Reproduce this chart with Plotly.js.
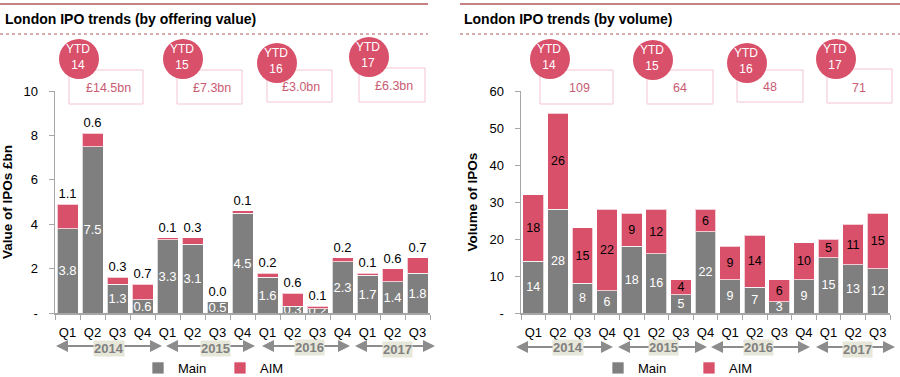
<!DOCTYPE html>
<html><head><meta charset="utf-8">
<script src="https://cdn.plot.ly/plotly-3.0.1.min.js"></script>
<style>html,body{margin:0;padding:0;background:#fff}#chart{width:900px;height:377px}</style>
</head><body><div id="chart"></div>
<script>
// ---------- data ----------
const quarters = ['Q1','Q2','Q3','Q4','Q1','Q2','Q3','Q4','Q1','Q2','Q3','Q4','Q1','Q2','Q3'];
const years = ['2014','2015','2016','2017'];
const valueMain = [3.8,7.5,1.3,0.6,3.3,3.1,0.5,4.5,1.6,0.3,0.2,2.3,1.7,1.4,1.8];
const valueAIM  = [1.1,0.6,0.3,0.7,0.1,0.3,0.0,0.1,0.2,0.6,0.1,0.2,0.1,0.6,0.7];
const volumeMain = [14,28,8,6,18,16,5,22,9,7,3,9,15,13,12];
const volumeAIM  = [18,26,15,22,9,12,4,6,9,14,6,10,5,11,15];
const ytdYears  = ['14','15','16','17'];
const ytdValue  = ['£14.5bn','£7.3bn','£3.0bn','£6.3bn'];
const ytdVolume = ['109','64','48','71'];
const valueTicks = [0,2,4,6,8,10];
const volumeTicks = [0,10,20,30,40,50,60];

// ---------- style ----------
const W = 900, H = 377;
const MAIN = '#7f7f7f', AIM = '#d9506b', AX = '#a6a6a6', RED = '#b35a5a';
const FONT = 'Arial, "Liberation Sans", sans-serif';
const X = p => p / W, Y = p => 1 - p / H;
const idx = quarters.map((_, i) => i);
const bounds = [...idx.map(i => i - 0.5), idx.length - 0.5];
const tickLbl = t => t.map(v => v === 0 ? '-' : String(v));

const traces = [
  {type:'bar', name:'Main', x:idx, y:valueMain, xaxis:'x', yaxis:'y', legend:'legend',
   marker:{color:MAIN, line:{color:'rgba(255,255,255,0.7)', width:1}},
   text:valueMain.map(v=>v.toFixed(1)), textposition:'inside', insidetextanchor:'middle',
   constraintext:'none', textangle:0, insidetextfont:{color:'#fff', size:13, family:FONT}, hoverinfo:'skip'},
  {type:'bar', name:'AIM', x:idx, y:valueAIM, xaxis:'x', yaxis:'y', legend:'legend',
   marker:{color:AIM, line:{color:'rgba(255,255,255,0.7)', width:1}},
   text:valueAIM.map(v=>v.toFixed(1)), textposition:'outside', cliponaxis:false,
   constraintext:'none', textangle:0, outsidetextfont:{color:'#000', size:13, family:FONT}, hoverinfo:'skip'},
  {type:'bar', name:'Main', x:idx, y:volumeMain, xaxis:'x2', yaxis:'y2', legend:'legend2',
   marker:{color:MAIN, line:{color:'rgba(255,255,255,0.7)', width:1}},
   text:volumeMain.map(String), textposition:'inside', insidetextanchor:'middle',
   constraintext:'none', textangle:0, insidetextfont:{color:'#fff', size:12.5, family:FONT}, hoverinfo:'skip'},
  {type:'bar', name:'AIM', x:idx, y:volumeAIM, xaxis:'x2', yaxis:'y2', legend:'legend2',
   marker:{color:AIM, line:{color:'rgba(255,255,255,0.7)', width:1}},
   text:volumeAIM.map(String), textposition:'inside', insidetextanchor:'middle',
   constraintext:'none', textangle:0, insidetextfont:{color:'#000', size:12.5, family:FONT}, hoverinfo:'skip'}
];

const xAxis = (d) => ({domain:d, range:[-0.5, idx.length-0.5], tickmode:'array', tickvals:idx, ticktext:quarters,
  ticks:'', showline:true, linecolor:AX, linewidth:1.5, showgrid:false, zeroline:false,
  tickfont:{size:13, color:'#000'}, ticklabelstandoff:7, fixedrange:true,
  minor:{tickmode:'array', tickvals:bounds, ticks:'outside', ticklen:5, tickcolor:AX, tickwidth:1, showgrid:false}});
const yAxis = (d, r, t, title) => ({domain:d, range:r, tickmode:'array', tickvals:t, ticktext:tickLbl(t),
  ticks:'outside', ticklen:5, tickcolor:AX, tickwidth:1, showline:true, linecolor:AX, linewidth:1.5,
  showgrid:false, zeroline:false, tickfont:{size:13, color:'#000'}, ticklabelstandoff:8, fixedrange:true,
  title:{text:'<b>'+title+'</b>', font:{size:13.5, color:'#000'}, standoff:8}});

const yDom = [Y(313), Y(91)];
const shapes = [], annotations = [];

// header lines and titles
[[0,428,3,'London IPO trends (by offering value)'],[460,900,462,'London IPO trends (by volume)']].forEach(([a,b,tx,t])=>{
  shapes.push({type:'line', xref:'paper', yref:'paper', x0:X(a), x1:X(b), y0:Y(4), y1:Y(4), line:{color:RED, width:1.5}});
  shapes.push({type:'line', xref:'paper', yref:'paper', x0:X(a), x1:X(b), y0:Y(34), y1:Y(34), line:{color:RED, width:1, dash:'dot'}});
  annotations.push({xref:'paper', yref:'paper', x:X(tx), y:Y(19), xanchor:'left', yanchor:'middle', showarrow:false,
    text:'<b>'+t+'</b>', font:{size:14, color:'#000'}});
});

// YTD badges
const badges = [
  {c:[[79,59],[183,59],[277,63],[369,57]], box:[[69,143,70,104],[177,242,70,104],[267,332,70,102],[359,425,68,102]],
   tp:[[108.5,88],[211.5,88],[301,87],[393.5,86]], labels:ytdValue},
  {c:[[550,59],[653,60],[747,63],[836,59]], box:[[540,613,70,104],[647,713,70,104],[737,803,70,102],[827,892,69,103]],
   tp:[[579,88],[679.5,88],[770,87],[858.5,88]], labels:ytdVolume}
];
badges.forEach(bg=>{
  ytdYears.forEach((yr,i)=>{
    const [x0,x1,y0,y1] = bg.box[i];
    shapes.push({type:'rect', xref:'paper', yref:'paper', x0:X(x0), x1:X(x1), y0:Y(y1), y1:Y(y0), line:{color:'#f3c6d0', width:1}, fillcolor:'rgba(0,0,0,0)'});
    const [cx,cy] = bg.c[i], r = 20;
    shapes.push({type:'circle', xref:'paper', yref:'paper', x0:X(cx-r), x1:X(cx+r), y0:Y(cy+r), y1:Y(cy-r), line:{width:0}, fillcolor:AIM});
    annotations.push({xref:'paper', yref:'paper', x:X(cx-1), y:Y(cy-2), showarrow:false, text:'YTD<br>'+yr,
      font:{size:12, color:'#fff'}, xanchor:'center', yanchor:'middle'});
    annotations.push({xref:'paper', yref:'paper', x:X(bg.tp[i][0]), y:Y(bg.tp[i][1]), showarrow:false, text:bg.labels[i],
      font:{size:12.5, color:'#c95b73'}, xanchor:'center', yanchor:'middle'});
  });
});

// year arrows
const arrows = [
  {y:346, seg:[[53,162],[163,255],[259,350],[352,435]], lab:[[108.5,348],[215,348],[309,347.5],[397.5,349.5]]},
  {y:347, seg:[[513,613],[615,707],[708,810],[813,895]], lab:[[567.5,347.5],[663.5,347.5],[758.5,347.5],[857.5,349.5]]}
];
arrows.forEach(a=>{
  years.forEach((yr,i)=>{
    const [s,e] = a.seg[i];
    annotations.push({xref:'paper', yref:'paper', x:X(e), y:Y(a.y), ax:-(e-s), ay:0, axref:'pixel', ayref:'pixel',
      text:' ', showarrow:true, arrowside:'end+start', arrowhead:2, startarrowhead:2, arrowsize:1.2, startarrowsize:1.2,
      arrowwidth:2, arrowcolor:'#8c8c8c'});
    annotations.push({xref:'paper', yref:'paper', x:X(a.lab[i][0]), y:Y(a.lab[i][1]), showarrow:false, text:'<b>'+yr+'</b>',
      font:{size:13, color:'#808080'}, bgcolor:'#e6e6d9', borderpad:0, xanchor:'center', yanchor:'middle'});
  });
});

const legendBase = {orientation:'h', yanchor:'middle', y:Y(368), xanchor:'left', bgcolor:'rgba(0,0,0,0)',
  font:{size:13, color:'#000'}, traceorder:'normal', entrywidthmode:'pixels'};

const layout = {
  width:W, height:H, margin:{l:0,r:0,t:0,b:0,autoexpand:false}, paper_bgcolor:'#fff', plot_bgcolor:'#fff',
  font:{family:FONT, color:'#000'}, barmode:'stack', bargap:0.16, showlegend:true,
  xaxis: Object.assign(xAxis([X(55), X(430)]), {anchor:'y'}),
  yaxis: Object.assign(yAxis(yDom, [0,10], valueTicks, 'Value of IPOs £bn'), {anchor:'x'}),
  xaxis2: Object.assign(xAxis([X(521), X(890)]), {anchor:'y2'}),
  yaxis2: Object.assign(yAxis(yDom, [0,60], volumeTicks, 'Volume of IPOs'), {anchor:'x2'}),
  legend: Object.assign({}, legendBase, {x:X(138), entrywidth:37}),
  legend2: Object.assign({}, legendBase, {x:X(598), entrywidth:46}),
  shapes, annotations
};

Plotly.newPlot('chart', traces, layout, {staticPlot:true, displayModeBar:false});
</script></body></html>
